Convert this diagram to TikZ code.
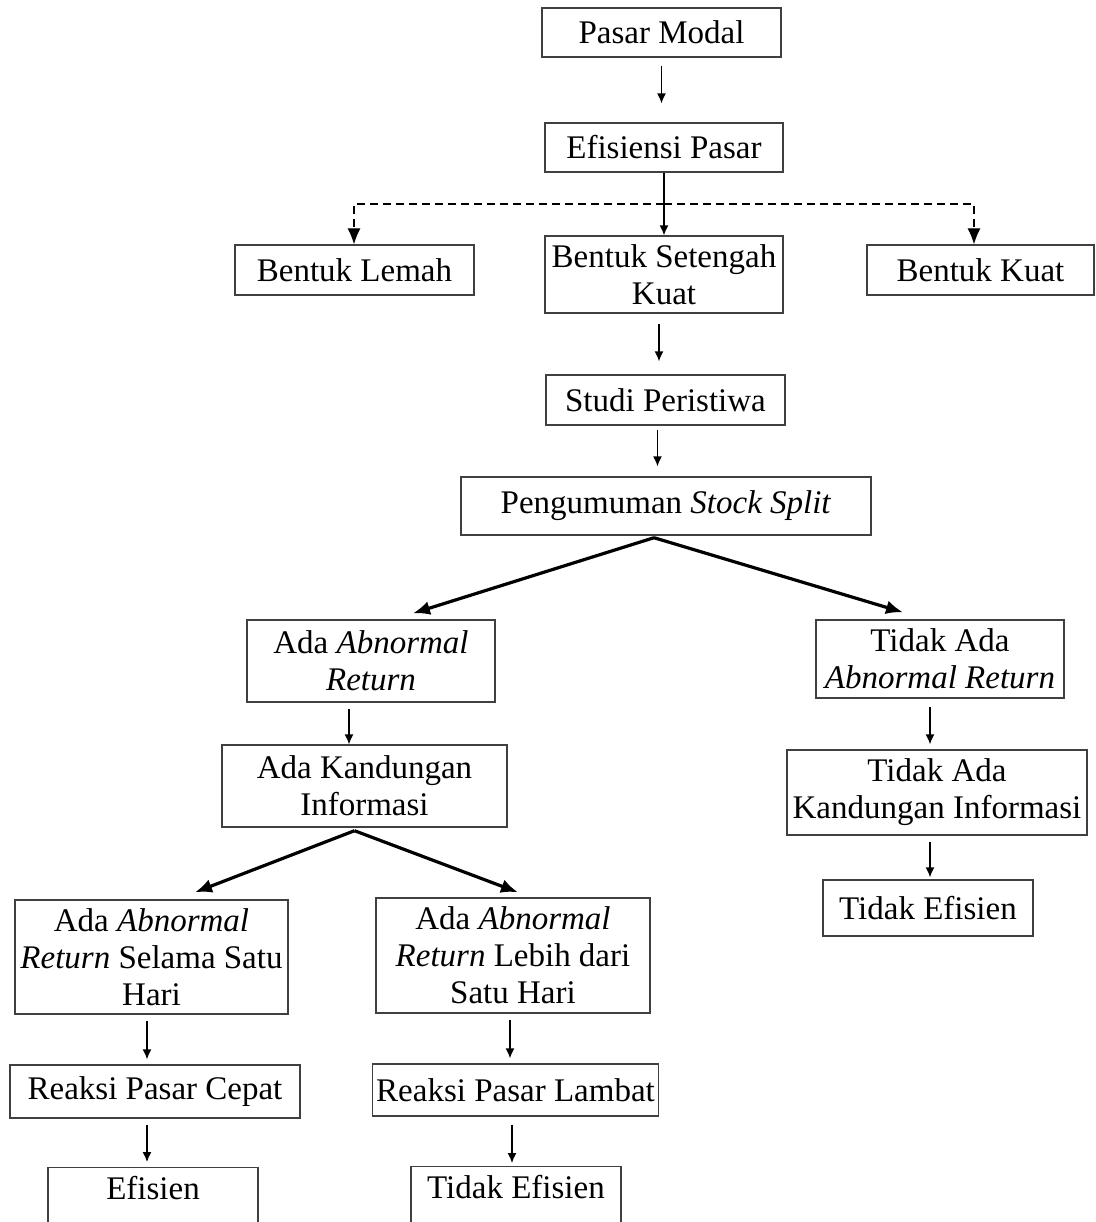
\documentclass[tikz,border=0pt]{standalone}
\usepackage{fontspec}
\setmainfont{Liberation Serif}
\usetikzlibrary{arrows.meta}

\begin{document}
\begin{tikzpicture}[x=0.5pt, y=-0.5pt,
kotak/.style={draw=black!75, line width=0.7pt, align=center, inner xsep=2pt, inner ysep=0pt,
  font=\fontsize{16.5}{18.5}\selectfont},
panah/.style={-{Latex[length=5pt,width=4.5pt]}, line width=0.7pt, shorten <=3pt, shorten >=2.5pt},
cabang/.style={-{Latex[length=8.5pt,width=7pt]}, line width=1.6pt},
putus/.style={-{Latex[length=8pt,width=6.5pt]}, dash pattern=on 4pt off 2.5pt, line width=0.6pt}]

\clip (0,0) rectangle (1096,1222);
\fill[white] (0,0) rectangle (1096,1222);

% atas
\node[kotak, minimum width=119.5pt, minimum height=24.5pt] (pm) at (661.5,32.5) {Pasar Modal};
\node[kotak, minimum width=119pt, minimum height=24.5pt] (ep) at (664,147.5) {Efisiensi Pasar};
\node[kotak, minimum width=119.5pt, minimum height=25pt] (bl) at (354.5,270) {Bentuk Lemah};
\node[kotak, minimum width=119pt, minimum height=38.5pt] (bs) at (664,274.5) {Bentuk Setengah\\Kuat};
\node[kotak, minimum width=113.5pt, minimum height=25pt] (bk) at (980.5,270) {Bentuk Kuat};
\node[kotak, minimum width=119.5pt, minimum height=25pt] (sp) at (665.5,400) {Studi Peristiwa};
\node[kotak, minimum width=205pt, minimum height=29pt] (ps) at (666,506) {Pengumuman \textit{Stock Split}};
\coordinate (cab) at (664,204);

% kiri
\node[kotak, minimum width=124pt, minimum height=41pt] (aar) at (371,661) {Ada \textit{Abnormal}\\\textit{Return}};
\node[kotak, minimum width=142.5pt, minimum height=41pt] (aki) at (364.5,786) {Ada Kandungan\\Informasi};
\node[kotak, minimum width=136.5pt, minimum height=57pt] (ars) at (151.5,957) {Ada \textit{Abnormal}\\\textit{Return} Selama Satu\\Hari};
\node[kotak, minimum width=137pt, minimum height=57.5pt] (arl) at (513,955.5) {Ada \textit{Abnormal}\\\textit{Return} Lebih dari\\Satu Hari};
\node[kotak, minimum width=145pt, minimum height=26.5pt] (rpc) at (155,1091.5) {Reaksi Pasar Cepat};
\node[kotak, minimum width=142.5pt, minimum height=26pt] (rpl) at (515.5,1090) {Reaksi Pasar Lambat};
\node[kotak, anchor=north, minimum width=105pt, text height=16pt, text depth=16pt] (ef) at (153,1167) {Efisien};
\node[kotak, anchor=north, minimum width=105pt, text height=16pt, text depth=16pt] (tef2) at (516,1166) {Tidak Efisien};

% kanan
\node[kotak, minimum width=124pt, minimum height=39pt] (tar) at (940,659) {Tidak Ada\\\textit{Abnormal Return}};
\node[kotak, minimum width=150pt, minimum height=42.5pt] (tki) at (937,792.5) {Tidak Ada\\Kandungan Informasi};
\node[kotak, minimum width=105pt, minimum height=28pt] (tef) at (928,908) {Tidak Efisien};

% panah
\draw[panah, shorten <=4pt, shorten >=9.5pt] (pm.south) -- (pm.south |- ep.north);
\draw[panah, shorten <=0pt, shorten >=0pt] (ep.south) -- (bs.north);
\draw[putus] (cab) -| ([xshift=-0.25pt]bl.north);
\draw[putus] (cab) -| ([xshift=-3.25pt]bk.north);
\draw[panah, shorten <=5pt, shorten >=6.5pt] ([xshift=-2.5pt]bs.south) -- ([xshift=-2.5pt]bs.south |- sp.north);
\draw[panah, shorten <=2pt, shorten >=5pt] ([xshift=-4pt]sp.south) -- ([xshift=-4pt]sp.south |- ps.north);

\draw[cabang] ([xshift=-6pt,yshift=-1pt]ps.south) -- ([xshift=21pt,yshift=3pt]aar.north);
\draw[cabang] ([xshift=-6pt,yshift=-1pt]ps.south) -- ([xshift=-18.5pt,yshift=3.5pt]tar.north);

\draw[panah, shorten >=0pt] ([xshift=-11pt]aar.south) -- ([xshift=-11pt]aar.south |- aki.north);
\draw[cabang] ([xshift=-5pt,yshift=-1.5pt]aki.south) -- ([xshift=21.75pt,yshift=3.5pt]ars.north);
\draw[cabang] ([xshift=-5pt,yshift=-1.5pt]aki.south) -- ([xshift=2.5pt,yshift=2.5pt]arl.north);

\draw[panah] ([xshift=-2.25pt]ars.south) -- ([xshift=-2.25pt]ars.south |- rpc.north);
\draw[panah] ([xshift=-1.5pt]arl.south) -- ([xshift=-1.5pt]arl.south |- rpl.north);
\draw[panah] ([xshift=-4pt]rpc.south) -- ([xshift=-4pt]rpc.south |- ef.north);
\draw[panah, shorten <=4pt, shorten >=1.5pt] ([xshift=-1.75pt]rpl.south) -- ([xshift=-1.75pt]rpl.south |- tef2.north);

\draw[panah, shorten <=4pt] ([xshift=-5pt]tar.south) -- ([xshift=-5pt]tar.south |- tki.north);
\draw[panah, shorten >=1pt] ([xshift=-3.5pt]tki.south) -- ([xshift=-3.5pt]tki.south |- tef.north);
\end{tikzpicture}
\end{document}
